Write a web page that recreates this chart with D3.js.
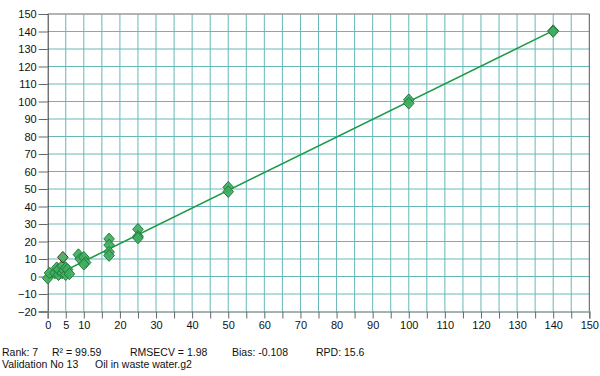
<!DOCTYPE html>
<html><head><meta charset="utf-8">
<script src="https://cdn.jsdelivr.net/npm/d3@7"></script>
<style>body{margin:0;background:#fff;} text{font-family:"Liberation Sans",Arial,sans-serif;}</style>
</head><body><svg id="c" width="600" height="376"></svg>
<script>
const xTickLabels = [0,5,10,20,30,40,50,60,70,80,90,100,110,120,130,140,150];
const xGrid = d3.range(0,151,5);
const yTicks = d3.range(-20,151,10);
const trueVals = [0,0.5,2,2.5,3,3,4,4,4.5,5,5,5.5,6,4.2,8.5,9,10,10.5,10,17,17,17,17,25,25,25,50,50,100,100,140,140];
const predVals = [-1,2,2,5,1,4,6,2,3.5,5,1,4,1.5,11,12.5,10,11,8,7,21.5,18,14,12,27,23,22,51,48.5,101,99,140.5,140];
const specialIdx = [13];
const fitLine = [[0,-1.5],[140,140.5]];
const statsLine1 = ["Rank: 7","R\u00B2 = 99.59","RMSECV = 1.98","Bias: -0.108","RPD: 15.6"];
const statsLine2 = ["Validation No 13","Oil in waste water.g2"];

const svg = d3.select("#c");
const x = d3.scaleLinear().domain([0,150]).range([47.7,589.3]);
const y = d3.scaleLinear().domain([-20,150]).range([311.5,14]);

// grid
svg.append("g").selectAll("line").data(xGrid.slice(1,-1)).join("line")
  .attr("x1",d=>x(d)).attr("x2",d=>x(d)).attr("y1",y(150)).attr("y2",y(-20))
  .attr("stroke","#66b8b8").attr("stroke-width",1);
svg.append("g").selectAll("line").data(yTicks.slice(1,-1)).join("line")
  .attr("x1",x(0)).attr("x2",x(150)).attr("y1",d=>y(d)).attr("y2",d=>y(d))
  .attr("stroke","#66b8b8").attr("stroke-width",1);

// borders
svg.append("line").attr("x1",x(0)).attr("x2",x(150)).attr("y1",y(150)).attr("y2",y(150)).attr("stroke","#9a9a9a").attr("stroke-width",1.5);
svg.append("line").attr("x1",x(150)).attr("x2",x(150)).attr("y1",y(150)).attr("y2",y(-20)).attr("stroke","#555").attr("stroke-width",1);

// axes
const yAxis = d3.axisLeft(y).tickValues(yTicks).tickSize(9).tickPadding(2);
const gy = svg.append("g").attr("transform",`translate(${x(0)},0)`).call(yAxis);
gy.select(".domain").attr("stroke","#333");
gy.selectAll(".tick line").attr("stroke","#666");
gy.selectAll("text").attr("font-size",11).attr("fill","#111").attr("font-family","Liberation Sans, Arial, sans-serif");

const xAxis = d3.axisBottom(x).tickValues(xGrid).tickSize(7).tickPadding(3)
  .tickFormat(d=>xTickLabels.includes(d)?d:"");
const gx = svg.append("g").attr("transform",`translate(0,${y(-20)})`).call(xAxis);
gx.select(".domain").attr("stroke","#8a9a9a").attr("stroke-width",1.5);
gx.selectAll(".tick line").attr("stroke","#666");
gx.selectAll("text").attr("font-size",11).attr("fill","#111").attr("font-family","Liberation Sans, Arial, sans-serif");

// fit line
svg.append("line").attr("x1",x(fitLine[0][0])).attr("y1",y(fitLine[0][1]))
  .attr("x2",x(fitLine[1][0])).attr("y2",y(fitLine[1][1]))
  .attr("stroke","#1f9a48").attr("stroke-width",1.6);

// points (diamond ~11px wide)
const dia = "M0,-5.8L5.3,0L0,5.8L-5.3,0Z";
const pts = trueVals.map((t,i)=>({t,p:predVals[i],s:specialIdx.includes(i)}));
svg.append("g").selectAll("path").data(pts).join("path")
  .attr("d",dia).attr("transform",d=>`translate(${x(d.t)},${y(d.p)})`)
  .attr("fill","#3fae5f").attr("fill-opacity",0.92)
  .attr("stroke",d=>d.s?"#5a2a22":"#237a3c").attr("stroke-width",1);

// stats text
const xs1 = [2,52,130,232,316];
svg.append("g").selectAll("text").data(statsLine1).join("text")
  .attr("x",(d,i)=>xs1[i]).attr("y",356).attr("font-size",10.5).attr("fill","#111").text(d=>d);
const xs2 = [2,95];
svg.append("g").selectAll("text").data(statsLine2).join("text")
  .attr("x",(d,i)=>xs2[i]).attr("y",368).attr("font-size",10.5).attr("fill","#111").text(d=>d);
</script></body></html>
